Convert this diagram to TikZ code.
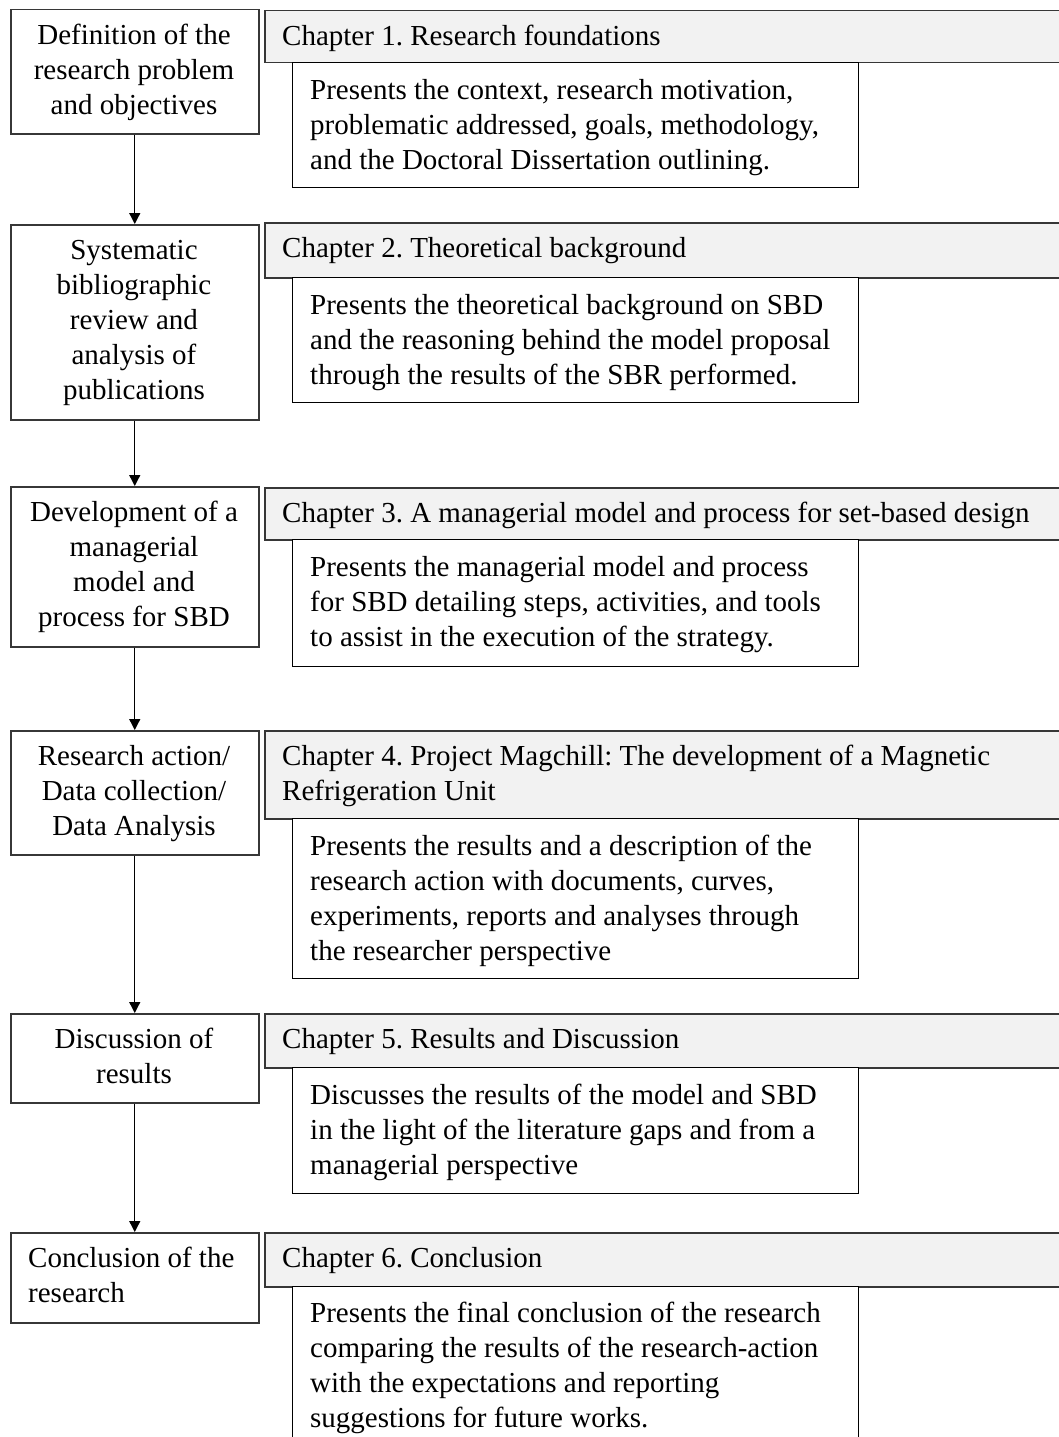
\documentclass[tikz,border=0pt]{standalone}
\usepackage{fontspec}
\setmainfont{Liberation Serif}
\usetikzlibrary{arrows.meta}
\definecolor{hdrfill}{RGB}{242,242,242}
\definecolor{edge}{RGB}{55,55,55}
\frenchspacing
\begin{document}
\begin{tikzpicture}[x=1pt,y=-1pt,
  stagebox/.style={draw=edge, line width=1.5pt, fill=white, inner sep=0pt,
                   minimum width=248pt, anchor=north west},
  chapbar/.style={draw=edge, line width=1.5pt, fill=hdrfill, inner sep=0pt,
                  minimum width=846pt, anchor=north west},
  descbox/.style={draw=black, line width=1.4pt, fill=white, inner sep=0pt,
                  minimum width=566pt, anchor=north west},
  txt/.style={inner sep=0pt, font=\fontsize{29}{35}\selectfont},
  ctxt/.style={txt, anchor=north, align=center},
  ltxt/.style={txt, anchor=north west, align=left},
  flow/.style={-{Triangle[length=11pt,width=11pt]}, line width=1.3pt, black}]

\useasboundingbox (0,0) rectangle (1059,1437);
\clip (0,0) rectangle (1059,1437);

% ---- stages of the research (left column)
\node[stagebox, minimum height=124pt] (s1) at (10,9) {};
\node[stagebox, minimum height=195pt] (s2) at (10,224) {};
\node[stagebox, minimum height=160pt] (s3) at (10,486) {};
\node[stagebox, minimum height=124pt] (s4) at (10,730) {};
\node[stagebox, minimum height=89pt]  (s5) at (10,1013) {};
\node[stagebox, minimum height=90pt]  (s6) at (10,1232) {};

\node[ctxt] (ts1) at (134,19.5)  {\strut Definition of the\\research problem\\and objectives};
\node[ctxt] (ts2) at (134,234.5) {\strut Systematic\\bibliographic\\review and\\analysis of\\publications};
\node[ctxt] (ts3) at (134,496.5) {\strut Development of a\\managerial\\model and\\process for SBD};
\node[ctxt] (ts4) at (134,740.5) {\strut Research action/\\Data collection/\\Data Analysis};
\node[ctxt] (ts5) at (134,1023.5) {\strut Discussion of\\results};
\node[ltxt] (ts6) at (28,1242.5) {\strut Conclusion of the\\research};

\draw[flow] (s1.south) -- (s2.north);
\draw[flow] (s2.south) -- (s3.north);
\draw[flow] (s3.south) -- (s4.north);
\draw[flow] (s4.south) -- (s5.north);
\draw[flow] (s5.south) -- (s6.north);

% ---- chapter bars
\node[chapbar, minimum height=52pt] (c1) at (264,10) {};
\node[chapbar, minimum height=55pt] (c2) at (264,222) {};
\node[chapbar, minimum height=52pt] (c3) at (264,487) {};
\node[chapbar, minimum height=88pt] (c4) at (264,730) {};
\node[chapbar, minimum height=54pt] (c5) at (264,1013) {};
\node[chapbar, minimum height=54pt] (c6) at (264,1232) {};

\node[ltxt] (tc1) at (282,20.5)   {\strut Chapter 1. Research foundations};
\node[ltxt] (tc2) at (282,232.5)  {\strut Chapter 2. Theoretical background};
\node[ltxt] (tc3) at (282,497.5)  {\strut Chapter 3. A managerial model and process for set-based design};
\node[ltxt] (tc4) at (282,740.5)  {\strut Chapter 4. Project Magchill: The development of a Magnetic\\Refrigeration Unit};
\node[ltxt] (tc5) at (282,1023.5) {\strut Chapter 5. Results and Discussion};
\node[ltxt] (tc6) at (282,1242.5) {\strut Chapter 6. Conclusion};

% ---- chapter summaries
\node[descbox, minimum height=125pt] (d1) at (292,62) {};
\node[descbox, minimum height=125pt] (d2) at (292,277) {};
\node[descbox, minimum height=127pt] (d3) at (292,539) {};
\node[descbox, minimum height=160pt] (d4) at (292,818) {};
\node[descbox, minimum height=126pt] (d5) at (292,1067) {};
\node[descbox, minimum height=194pt] (d6) at (292,1286) {};

\node[ltxt] (td1) at (310,74.5) {\strut Presents the context, research motivation,\\problematic addressed, goals, methodology,\\and the Doctoral Dissertation outlining.};
\node[ltxt] (td2) at (310,289.5) {\strut Presents the theoretical background on SBD\\and the reasoning behind the model proposal\\through the results of the SBR performed.};
\node[ltxt] (td3) at (310,551.5) {\strut Presents the managerial model and process\\for SBD detailing steps, activities, and tools\\to assist in the execution of the strategy.};
\node[ltxt] (td4) at (310,830.5) {\strut Presents the results and a description of the\\research action with documents, curves,\\experiments, reports and analyses through\\the researcher perspective};
\node[ltxt] (td5) at (310,1079.5) {\strut Discusses the results of the model and SBD\\in the light of the literature gaps and from a\\managerial perspective};
\node[ltxt] (td6) at (310,1297.5) {\strut Presents the final conclusion of the research\\comparing the results of the research-action\\with the expectations and reporting\\suggestions for future works.};
\end{tikzpicture}
\end{document}
